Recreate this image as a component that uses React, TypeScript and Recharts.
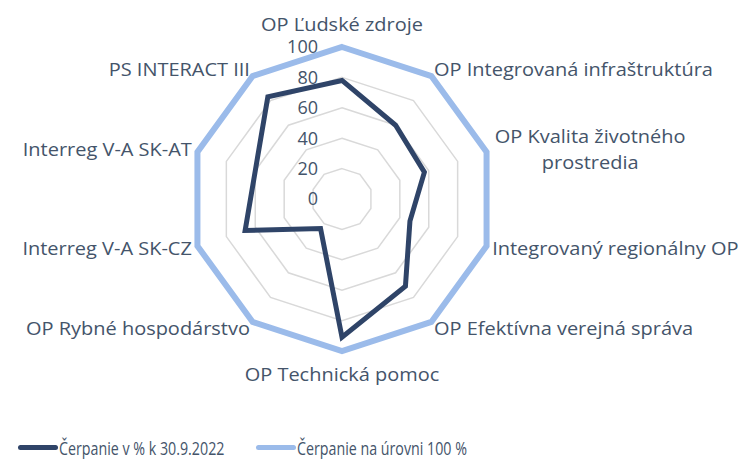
import React from "react";
import {
  RadarChart,
  Radar,
  PolarGrid,
  PolarAngleAxis,
  PolarRadiusAxis,
  Legend,
} from "recharts";

const categories = [
  "OP Ľudské zdroje",
  "OP Integrovaná infraštruktúra",
  "OP Kvalita životného prostredia",
  "Integrovaný regionálny OP",
  "OP Efektívna verejná správa",
  "OP Technická pomoc",
  "OP Rybné hospodárstvo",
  "Interreg V-A SK-CZ",
  "Interreg V-A SK-AT",
  "PS INTERACT III",
];
const cerpanie = [78, 60, 57, 47, 71, 91, 24, 67, 60, 83];
const uroven = [100, 100, 100, 100, 100, 100, 100, 100, 100, 100];
const radiusTicks = [0, 20, 40, 60, 80, 100];
const seriesNames = ["Čerpanie v % k 30.9.2022", "Čerpanie na úrovni 100 %"];

const data = categories.map((c, i) => ({
  name: c,
  cerpanie: cerpanie[i],
  uroven: uroven[i],
}));

const TEXT = "#44546A";
const DARK = "#2F4468";
const LIGHT = "#9BBBEA";
const FONT = "'Open Sans', 'Noto Sans', sans-serif";
const FS = 18;
const SX = 1.11;

const wrapLines: Record<string, string[]> = {
  "OP Kvalita životného prostredia": ["OP Kvalita životného", "prostredia"],
};

const AngleTick = (props: any) => {
  const { x, y, payload } = props;
  const angle = payload.coordinate as number;
  const c = Math.cos((angle * Math.PI) / 180);
  const s = Math.sin((angle * Math.PI) / 180);
  let anchor: "start" | "end" | "middle" = "middle";
  if (Math.abs(c) > 1e-3) anchor = c > 0 ? "start" : "end";
  let yy = y;
  if (Math.abs(c) <= 1e-3) yy = s > 0 ? y - 14 : y + 16;
  const dx = Math.abs(c) > 1e-3 ? (c > 0 ? -2 : 2) : 0;
  const lines = wrapLines[payload.value];
  if (lines) {
    const lh = 26;
    const w = 196;
    return (
      <g transform={`translate(${x + dx},${y}) scale(${SX},1)`}>
        <text
          x={0}
          y={0}
          fill={TEXT}
          fontSize={FS}
          fontFamily={FONT}
          textAnchor="middle"
        >
          {lines.map((l, i) => (
            <tspan
              key={i}
              x={w / 2 / SX}
              y={(i - (lines.length - 1) / 2) * lh}
              dy="0.35em"
            >
              {l}
            </tspan>
          ))}
        </text>
      </g>
    );
  }
  return (
    <g transform={`translate(${x + dx},${yy}) scale(${SX},1)`}>
      <text
        x={0}
        y={0}
        dy="0.35em"
        fill={TEXT}
        fontSize={FS}
        fontFamily={FONT}
        textAnchor={anchor}
      >
        {payload.value}
      </text>
    </g>
  );
};

const RadiusTick = (props: any) => {
  const { x, y, payload } = props;
  return (
    <text
      x={x - 24}
      y={y}
      dy="0.35em"
      fill={TEXT}
      fontSize={18}
      fontFamily={FONT}
      textAnchor="end"
    >
      {payload.value}
    </text>
  );
};

const LegendContent = () => {
  const items = [
    { name: seriesNames[0], color: DARK, left: 18 },
    { name: seriesNames[1], color: LIGHT, left: 256 },
  ];
  return (
    <div style={{ position: "relative", height: 24 }}>
      {items.map((it) => (
        <div
          key={it.name}
          style={{
            position: "absolute",
            left: it.left,
            top: 0,
            display: "flex",
            alignItems: "center",
            whiteSpace: "nowrap",
            fontFamily: FONT,
            fontSize: 18.5,
            color: TEXT,
            height: 24,
          }}
        >
          <span
            style={{
              display: "inline-block",
              width: 40,
              height: 5,
              background: it.color,
              borderRadius: 3,
            }}
          />
          <span
            style={{
              display: "inline-block",
              marginLeft: 1,
              transform: "scaleX(0.77)",
              transformOrigin: "left center",
            }}
          >
            {it.name}
          </span>
        </div>
      ))}
    </div>
  );
};

export default function App() {
  return (
    <div style={{ position: "absolute", left: 0, top: 0 }}>
      <RadarChart
        width={744}
        height={464}
        data={data}
        cx={342}
        cy={199}
        outerRadius={152}
        startAngle={90}
        endAngle={-270}
        margin={{ top: 0, right: 0, bottom: 0, left: 0 }}
      >
        <PolarGrid
          gridType="polygon"
          radialLines={false}
          stroke="#D9D9D9"
          strokeWidth={1.5}
        />
        <PolarAngleAxis
          dataKey="name"
          tick={<AngleTick />}
          tickLine={false}
          axisLine={false}
        />
        <PolarRadiusAxis
          angle={90}
          domain={[0, 100]}
          ticks={radiusTicks}
          tick={<RadiusTick />}
          axisLine={false}
          tickLine={false}
        />
        <Radar
          name={seriesNames[0]}
          dataKey="cerpanie"
          stroke={DARK}
          strokeWidth={5}
          fill="none"
          fillOpacity={0}
          isAnimationActive={false}
        />
        <Radar
          name={seriesNames[1]}
          dataKey="uroven"
          stroke={LIGHT}
          strokeWidth={6}
          fill="none"
          fillOpacity={0}
          isAnimationActive={false}
        />
        <Legend
          content={<LegendContent />}
          wrapperStyle={{ position: "absolute", left: 0, top: 435, width: 744 }}
        />
      </RadarChart>
    </div>
  );
}
